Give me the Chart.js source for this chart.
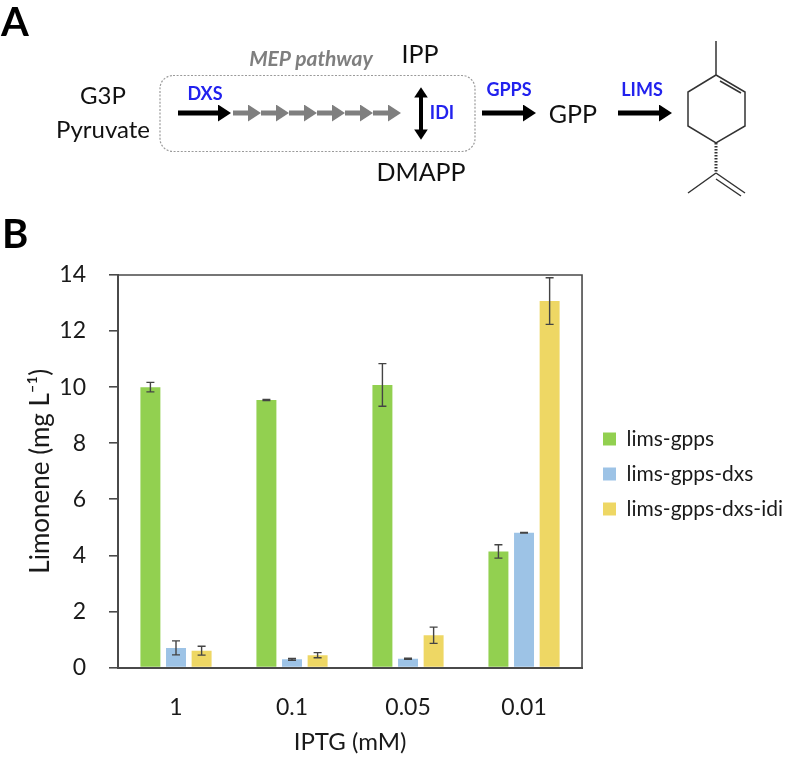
<!DOCTYPE html>
<html lang="en">
<head>
<meta charset="UTF-8">
<title>Limonene</title>
<style>
    html, body { margin: 0; padding: 0; background: #fff; }
    #page { position: relative; width: 790px; height: 757px; overflow: hidden; font-family: Lato, sans-serif; }
    #myChart { position: absolute; left: 0; top: 0; }
    #scheme { position: absolute; left: 0; top: 0; }
    .panel { position: absolute; font-weight: 700; font-size: 40px; line-height: 42px; color: #000; }
</style>
</head>
<body>
<div id="page">
    <canvas id="myChart" width="790" height="757"></canvas>
    <svg id="scheme" width="790" height="210" viewBox="0 0 790 210">
        <defs>
            <marker id="head" markerWidth="3" markerHeight="3.4" refX="0.4" refY="1.7" orient="auto-start-reverse" markerUnits="strokeWidth">
                <path d="M0 0L2.6 1.7L0 3.4z" fill="#000"/>
            </marker>
            <marker id="headGrey" markerWidth="3" markerHeight="3.4" refX="0.4" refY="1.7" orient="auto" markerUnits="strokeWidth">
                <path d="M0 0L2.6 1.7L0 3.4z" fill="#7f7f7f"/>
            </marker>
        </defs>
        <rect x="160" y="75.5" width="315" height="76" rx="13" fill="none" stroke="#9a9a9a" stroke-width="1.2" stroke-dasharray="2 1.6"/>

        <g stroke="#7f7f7f" stroke-width="5" fill="none">
            <path d="M233 113H250" marker-end="url(#headGrey)"/>
            <path d="M261 113H278" marker-end="url(#headGrey)"/>
            <path d="M289 113H306" marker-end="url(#headGrey)"/>
            <path d="M317 113H334" marker-end="url(#headGrey)"/>
            <path d="M345 113H362" marker-end="url(#headGrey)"/>
            <path d="M373 113H390" marker-end="url(#headGrey)"/>
        </g>
        <g stroke="#000" stroke-width="5" fill="none">
            <path d="M178 113H220" marker-end="url(#head)"/>
            <path d="M482 113H525" marker-end="url(#head)"/>
            <path d="M618 113H661" marker-end="url(#head)"/>
        </g>
        <path d="M421 96V131" stroke="#000" stroke-width="4" fill="none" marker-start="url(#head)" marker-end="url(#head)"/>

        <g fill="#111" font-family="Lato, sans-serif" font-size="24" text-anchor="middle">
            <text x="103" y="104">G3P</text>
            <text x="103" y="138">Pyruvate</text>
            <text x="420" y="63" font-size="25">IPP</text>
            <text x="421" y="181" font-size="25">DMAPP</text>
            <text x="573" y="123" font-size="25">GPP</text>
        </g>
        <text x="311" y="66" fill="#7f7f7f" font-family="Lato, sans-serif" font-size="21" font-weight="700" font-style="italic" text-anchor="middle">MEP pathway</text>
        <g fill="#2222ee" font-family="Lato, sans-serif" font-size="18" font-weight="700" text-anchor="middle">
            <text x="205" y="100">DXS</text>
            <text x="442" y="119">IDI</text>
            <text x="509" y="96">GPPS</text>
            <text x="642" y="96">LIMS</text>
        </g>

        <g stroke="#333" stroke-width="1.5" fill="none">
            <path d="M716 41V75L745 92V126L716 143L688 126V92L716 75"/>
            <path d="M720 81L741 93"/>
            <path d="M716 173L688 193M716 173L745 193M716 179L741 196"/>
            <path d="M716 143V173" stroke-width="3" stroke-dasharray="1.5 1.5"/>
        </g>
    </svg>
    <div class="panel" style="left:1px;top:0">A</div>
    <div class="panel" style="left:2px;top:212px">B</div>
</div>

<script src="https://cdn.jsdelivr.net/npm/chart.js"></script>
<script>
    const categories = ['1', '0.1', '0.05', '0.01'];
    const seriesNames = ['lims-gpps', 'lims-gpps-dxs', 'lims-gpps-dxs-idi'];
    const limsGpps = [10.0, 9.54, 10.08, 4.14];
    const limsGppsDxs = [0.7, 0.29, 0.31, 4.81];
    const limsGppsDxsIdi = [0.6, 0.44, 1.15, 13.07];
    const limsGppsErr = [0.17, 0.02, 0.76, 0.24];
    const limsGppsDxsErr = [0.25, 0.03, 0.02, 0.01];
    const limsGppsDxsIdiErr = [0.16, 0.09, 0.29, 0.83];
    const yTicks = [0, 2, 4, 6, 8, 10, 12, 14];

    const axisColor = '#4a4a4a';
    const textColor = '#1a1a1a';
    const errors = [limsGppsErr, limsGppsDxsErr, limsGppsDxsIdiErr];

    // error bars and the box round the plot, drawn over the bars
    const overlay = {
        id: 'overlay',
        afterLayout(chart) {
            // legend sits clear of the plot and above the middle of the canvas
            chart.legend.left = 589;
            chart.legend.top -= 42;
            chart.legend.bottom -= 42;
        },
        afterDatasetsDraw(chart) {
            const c = chart.ctx;
            const y = chart.scales.y;
            const area = chart.chartArea;
            c.save();
            c.strokeStyle = '#444';
            c.lineWidth = 1.4;
            errors.forEach((errs, i) => {
                const meta = chart.getDatasetMeta(i);
                errs.forEach((e, j) => {
                    const v = chart.data.datasets[i].data[j];
                    const x = meta.data[j].x;
                    const top = y.getPixelForValue(v + e);
                    const bottom = y.getPixelForValue(v - e);
                    c.beginPath();
                    c.moveTo(x, top);
                    c.lineTo(x, bottom);
                    c.moveTo(x - 4, top);
                    c.lineTo(x + 4, top);
                    c.moveTo(x - 4, bottom);
                    c.lineTo(x + 4, bottom);
                    c.stroke();
                });
            });
            c.strokeStyle = axisColor;
            c.lineWidth = 1.6;
            c.beginPath();
            c.moveTo(area.left, area.top);
            c.lineTo(area.right, area.top);
            c.lineTo(area.right, area.bottom);
            c.stroke();
            c.restore();
        }
    };

    const ctx = document.getElementById('myChart').getContext('2d');
    new Chart(ctx, {
        type: 'bar',
        data: {
            labels: categories,
            datasets: [
                { label: seriesNames[0], data: limsGpps, backgroundColor: '#92d050' },
                { label: seriesNames[1], data: limsGppsDxs, backgroundColor: '#9dc3e6' },
                { label: seriesNames[2], data: limsGppsDxsIdi, backgroundColor: '#eed764' }
            ]
        },
        plugins: [overlay],
        options: {
            responsive: false,
            animation: false,
            barPercentage: 0.78,
            categoryPercentage: 0.662,
            layout: { padding: { left: 21, top: 275, right: 4, bottom: 0 } },
            plugins: {
                tooltip: { enabled: false },
                legend: {
                    position: 'right',
                    maxWidth: 209,
                    labels: {
                        boxWidth: 13,
                        boxHeight: 13,
                        padding: 14,
                        color: textColor,
                        font: { family: 'Lato', size: 21 }
                    }
                }
            },
            scales: {
                x: {
                    afterFit(scale) { scale.height = 89.5; },
                    grid: { display: false },
                    border: { color: axisColor, width: 2 },
                    ticks: { color: textColor, padding: 18, maxRotation: 0, font: { family: 'Lato', size: 23 } },
                    title: { display: true, text: 'IPTG (mM)', color: textColor, padding: { top: 0, bottom: 0 }, font: { family: 'Lato', size: 24 } }
                },
                y: {
                    min: 0,
                    max: 14,
                    afterFit(scale) { scale.width = 97; },
                    afterBuildTicks(scale) { scale.ticks = yTicks.map(value => ({ value })); },
                    grid: { drawOnChartArea: false, color: axisColor, lineWidth: 1.6, tickLength: 9 },
                    border: { color: axisColor, width: 2 },
                    ticks: { color: textColor, padding: 23, font: { family: 'Lato', size: 23 } },
                    title: { display: true, text: 'Limonene (mg L⁻¹)', color: textColor, font: { family: 'Lato', size: 26 } }
                }
            }
        }
    });
</script>
</body>
</html>
